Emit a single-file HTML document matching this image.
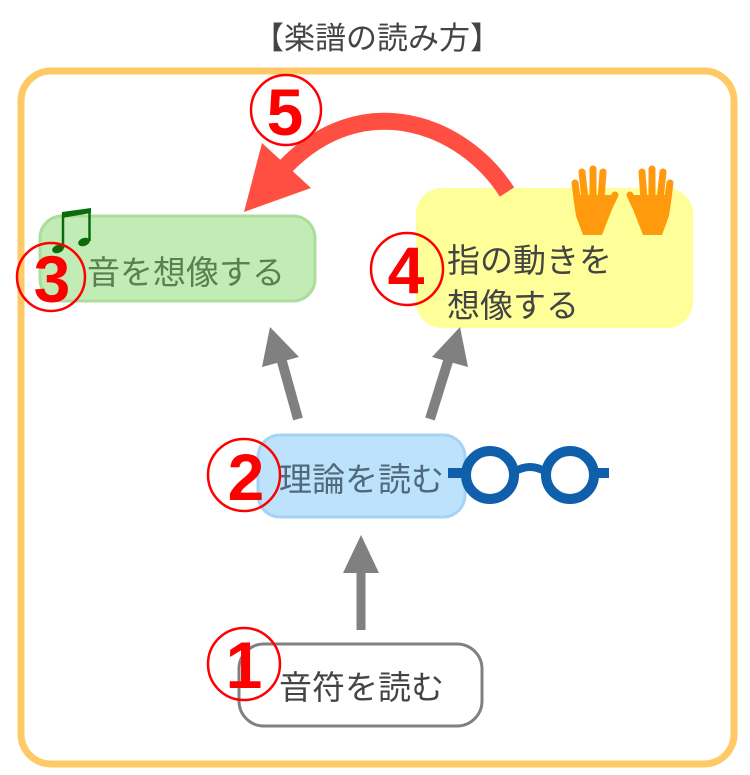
<!DOCTYPE html>
<html>
<head>
<meta charset="utf-8">
<style>
  html, body { margin: 0; padding: 0; background: #ffffff; }
  svg { display: block; }
  text { font-family: "Liberation Sans", "Noto Sans CJK JP", sans-serif; }
  .num { font-family: "Liberation Sans", sans-serif; font-weight: bold; fill: #ff0000; font-size: 66px; text-anchor: middle; }
</style>
</head>
<body>
<svg width="750" height="775" viewBox="0 0 750 775" xmlns="http://www.w3.org/2000/svg">
  <!-- Title -->
  <text x="377" y="49" font-size="31" fill="#444444" text-anchor="middle">【楽譜の読み方】</text>

  <!-- Outer frame -->
  <rect x="21" y="71" width="713" height="693" rx="30" ry="30" fill="none" stroke="#ffca66" stroke-width="7"/>

  <!-- Green node (3) -->
  <rect x="40" y="216" width="275" height="85" rx="22" ry="22" fill="#c2ecb5" stroke="#acdd9d" stroke-width="3"/>
  <text x="87" y="284" font-size="33" fill="#5a8052">音を想像する</text>

  <!-- Yellow node (4) -->
  <rect x="416" y="188" width="277" height="140" rx="26" ry="26" fill="#ffff99"/>
  <text x="447" y="272" font-size="33" fill="#444444">指の動きを</text>
  <text x="447" y="317" font-size="33" fill="#444444">想像する</text>

  <!-- Blue node (2) -->
  <rect x="258" y="435" width="207" height="82" rx="22" ry="22" fill="#bde3fc" stroke="#a6d2f6" stroke-width="3"/>
  <text x="279" y="491" font-size="33" fill="#50687c">理論を読む</text>

  <!-- White node (1) -->
  <rect x="239" y="644" width="243" height="82" rx="25" ry="25" fill="#ffffff" stroke="#808080" stroke-width="3"/>
  <text x="279" y="699" font-size="33" fill="#444444">音符を読む</text>

  <!-- Gray arrows -->
  <line x1="361" y1="630" x2="361" y2="568" stroke="#808080" stroke-width="9"/>
  <polygon points="361,535 343,573 379,573" fill="#808080"/>

  <line x1="298" y1="419" x2="281" y2="358" stroke="#808080" stroke-width="10"/>
  <polygon points="270,327 262,367 299,357" fill="#808080"/>

  <line x1="430" y1="419" x2="449" y2="358" stroke="#808080" stroke-width="10"/>
  <polygon points="460,327 432,357 468,367" fill="#808080"/>

  <!-- Red curved arrow (5) -->
  <path d="M 507 192 C 462 122, 362 88, 286 166" fill="none" stroke="#ff4f42" stroke-width="17"/>
  <polygon points="244,212 262,143 311,188" fill="#ff4f42"/>

  <!-- Music note -->
  <g fill="#0b6b0b" stroke="#0b6b0b">
    <ellipse cx="58" cy="249" rx="6" ry="4" transform="rotate(-20 58 249)" stroke="none"/>
    <ellipse cx="84" cy="242" rx="6" ry="4" transform="rotate(-20 84 242)" stroke="none"/>
    <line x1="63" y1="248" x2="63" y2="214" stroke-width="2.5"/>
    <line x1="89.5" y1="241" x2="89.5" y2="209" stroke-width="2.5"/>
    <polygon points="62,212 91,208 91,213 62,218" stroke="none"/>
  </g>

  <!-- Hands -->
  <g fill="#ff9a0e" stroke="#ff9a0e" stroke-linecap="round">
    <line x1="578" y1="205" x2="575" y2="183" stroke-width="7"/>
    <line x1="585" y1="200" x2="582" y2="172" stroke-width="7"/>
    <line x1="593" y1="200" x2="593" y2="169" stroke-width="7"/>
    <line x1="601" y1="200" x2="603" y2="172" stroke-width="7"/>
    <line x1="606" y1="214" x2="615" y2="195" stroke-width="7"/>
    <polygon points="573,195 611,195 611,212 602,235 583,235 576,216" stroke="none"/>
  </g>
  <g transform="translate(1245,0) scale(-1,1)" fill="#ff9a0e" stroke="#ff9a0e" stroke-linecap="round">
    <line x1="578" y1="205" x2="575" y2="183" stroke-width="7"/>
    <line x1="585" y1="200" x2="582" y2="172" stroke-width="7"/>
    <line x1="593" y1="200" x2="593" y2="169" stroke-width="7"/>
    <line x1="601" y1="200" x2="603" y2="172" stroke-width="7"/>
    <line x1="606" y1="214" x2="615" y2="195" stroke-width="7"/>
    <polygon points="573,195 611,195 611,212 602,235 583,235 576,216" stroke="none"/>
  </g>

  <!-- Glasses -->
  <g fill="none" stroke="#0f5fab" stroke-width="10">
    <line x1="448" y1="473" x2="465" y2="473"/>
    <circle cx="490" cy="475" r="24"/>
    <circle cx="570" cy="475" r="24"/>
    <path d="M 514 472 Q 530 462 546 472" stroke-width="8"/>
    <line x1="594" y1="473" x2="609" y2="473"/>
  </g>

  <!-- Circled numbers -->
  <g fill="none" stroke="#ff0000" stroke-width="2.5">
    <circle cx="286" cy="110" r="35"/>
    <circle cx="51" cy="277" r="34"/>
    <circle cx="407" cy="269" r="36"/>
    <circle cx="244" cy="475" r="36"/>
    <circle cx="244" cy="664" r="36"/>
  </g>
  <text class="num" x="285" y="135">5</text>
  <text class="num" x="52" y="302" font-size="60">3</text>
  <text class="num" x="406" y="293">4</text>
  <text class="num" x="246" y="500">2</text>
  <text class="num" x="244" y="688">1</text>
</svg>
</body>
</html>
